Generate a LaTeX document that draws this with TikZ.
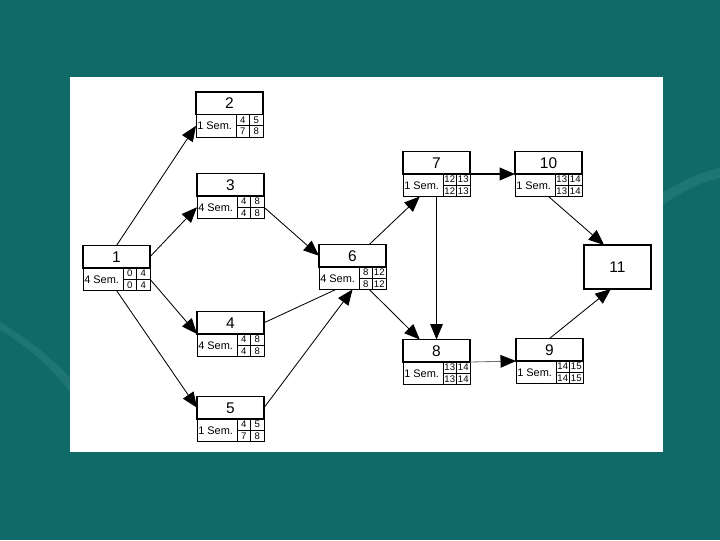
\documentclass[tikz,border=0pt]{standalone}
\usepackage{fontspec}
\setmainfont{Liberation Sans}
\usetikzlibrary{arrows.meta,calc}

\definecolor{slideteal}{RGB}{15,106,104}
\definecolor{swoosh}{RGB}{60,140,136}

\tikzset{
	numbox/.style={draw, fill=white, anchor=south west, minimum width=1.675cm, minimum height=0.5625cm, inner sep=0pt, outer sep=0pt, font=\fontsize{11}{12}\selectfont},
	durbox/.style={draw, fill=white, anchor=north west, line width=0.6pt, minimum width=1.675cm, minimum height=0.5625cm, inner sep=0pt, outer sep=0pt},
	semlabel/.style={anchor=west, inner sep=0pt, font=\fontsize{7.8}{9}\selectfont},
	cell/.style={inner sep=0pt, font=\fontsize{6.8}{7}\selectfont},
	link/.style={line width=0.6pt, -{Triangle[length=11pt, width=9pt, color=black]}}
}

\begin{document}
\begin{tikzpicture}[x=0.025cm, y=-0.025cm]
	% slide background
	\fill[slideteal] (0,0) rectangle (720,540);
	\useasboundingbox (0,0) rectangle (720,540);
	\fill[swoosh, opacity=0.35] (0,330) .. controls (25,345) and (50,365) .. (70,392) -- (70,378) .. controls (50,355) and (25,338) .. (0,322) -- cycle;
	\fill[swoosh, opacity=0.35] (663,205) .. controls (685,190) and (700,182) .. (720,178) -- (720,168) .. controls (700,172) and (685,180) .. (663,192) -- cycle;
	\fill[white] (70,77) rectangle (663,452);

	% activities: number / x / y / duration / ES / EF / LS / LF / border
	\foreach \n/\x/\y/\dur/\es/\ef/\ls/\lf/\bw in {
		1/83/268/4/0/4/0/4/1.4pt,
		2/196/114.5/1/4/5/7/8/0.8pt,
		3/197/196/4/4/8/4/8/1.4pt,
		4/197/334/4/4/8/4/8/1.4pt,
		5/197/419/1/4/5/7/8/0.8pt,
		6/319/267/4/8/12/8/12/1.2pt,
		7/403/174/1/12/13/12/13/1.4pt,
		10/515/174/1/13/14/13/14/0.8pt,
		8/403/362/1/13/14/13/14/1.4pt,
		9/516/361/1/14/15/14/15/1.4pt}
	{
		\node[numbox, line width=\bw] (t\n) at (\x,\y) {\n};
		\node[durbox] (d\n) at (\x,\y) {};
		\node[semlabel] (s\n) at ($(d\n.west)+(1,0)$) {\dur{} Sem.};
		\draw[line width=0.6pt] ($(d\n.north west)+(40,0)$) -- ($(d\n.south west)+(40,0)$);
		\draw[line width=0.6pt] ($(d\n.north west)+(53.5,0)$) -- ($(d\n.south west)+(53.5,0)$);
		\draw[line width=0.6pt] ($(d\n.west)+(40,0)$) -- (d\n.east);
		\node[cell] (es\n) at ($(d\n.north west)+(46.75,5.6)$) {\es};
		\node[cell] (ef\n) at ($(d\n.north west)+(60.25,5.6)$) {\ef};
		\node[cell] (ls\n) at ($(d\n.north west)+(46.75,16.9)$) {\ls};
		\node[cell] (lf\n) at ($(d\n.north west)+(60.25,16.9)$) {\lf};
	}
	\node[draw, fill=white, line width=1.4pt, anchor=north west, minimum width=1.675cm, minimum height=1.1cm, inner sep=0pt, outer sep=0pt, font=\fontsize{11}{12}\selectfont] (t11) at (584,245) {11};

	% precedences
	\draw[link] (t1.north) -- (d2.west);
	\draw[link] (t1.east) -- (d3.west);
	\draw[link] (d1.east) -- (t4.south west);
	\draw[link] (d1.south) -- (t5.west);
	\draw[link] (d3.east) -- (t6.west);
	\draw[line width=0.6pt] (t4.east) -- ($(d6.south)!0.5!(d6.south west)$);
	\draw[link] (t5.east) -- (d6.south);
	\draw[link] ($(t6.north)!0.5!(t6.north east)$) -- ($(d7.south)!0.5!(d7.south west)$);
	\draw[link] ($(d6.south)!0.5!(d6.south east)$) -- ($(t8.north)!0.5!(t8.north west)$);
	\draw[link] (d7.south) -- (t8.north);
	\draw[link, line width=1.4pt] (t7.south east) -- (t10.south west);
	\draw[link, draw=black!55] (t8.south east) -- (t9.south west);
	\draw[link] (d10.south) -- ($(t11.north)!0.4!(t11.north west)$);
	\draw[link] (t9.north) -- ($(t11.south)!0.2!(t11.south west)$);
\end{tikzpicture}
\end{document}
